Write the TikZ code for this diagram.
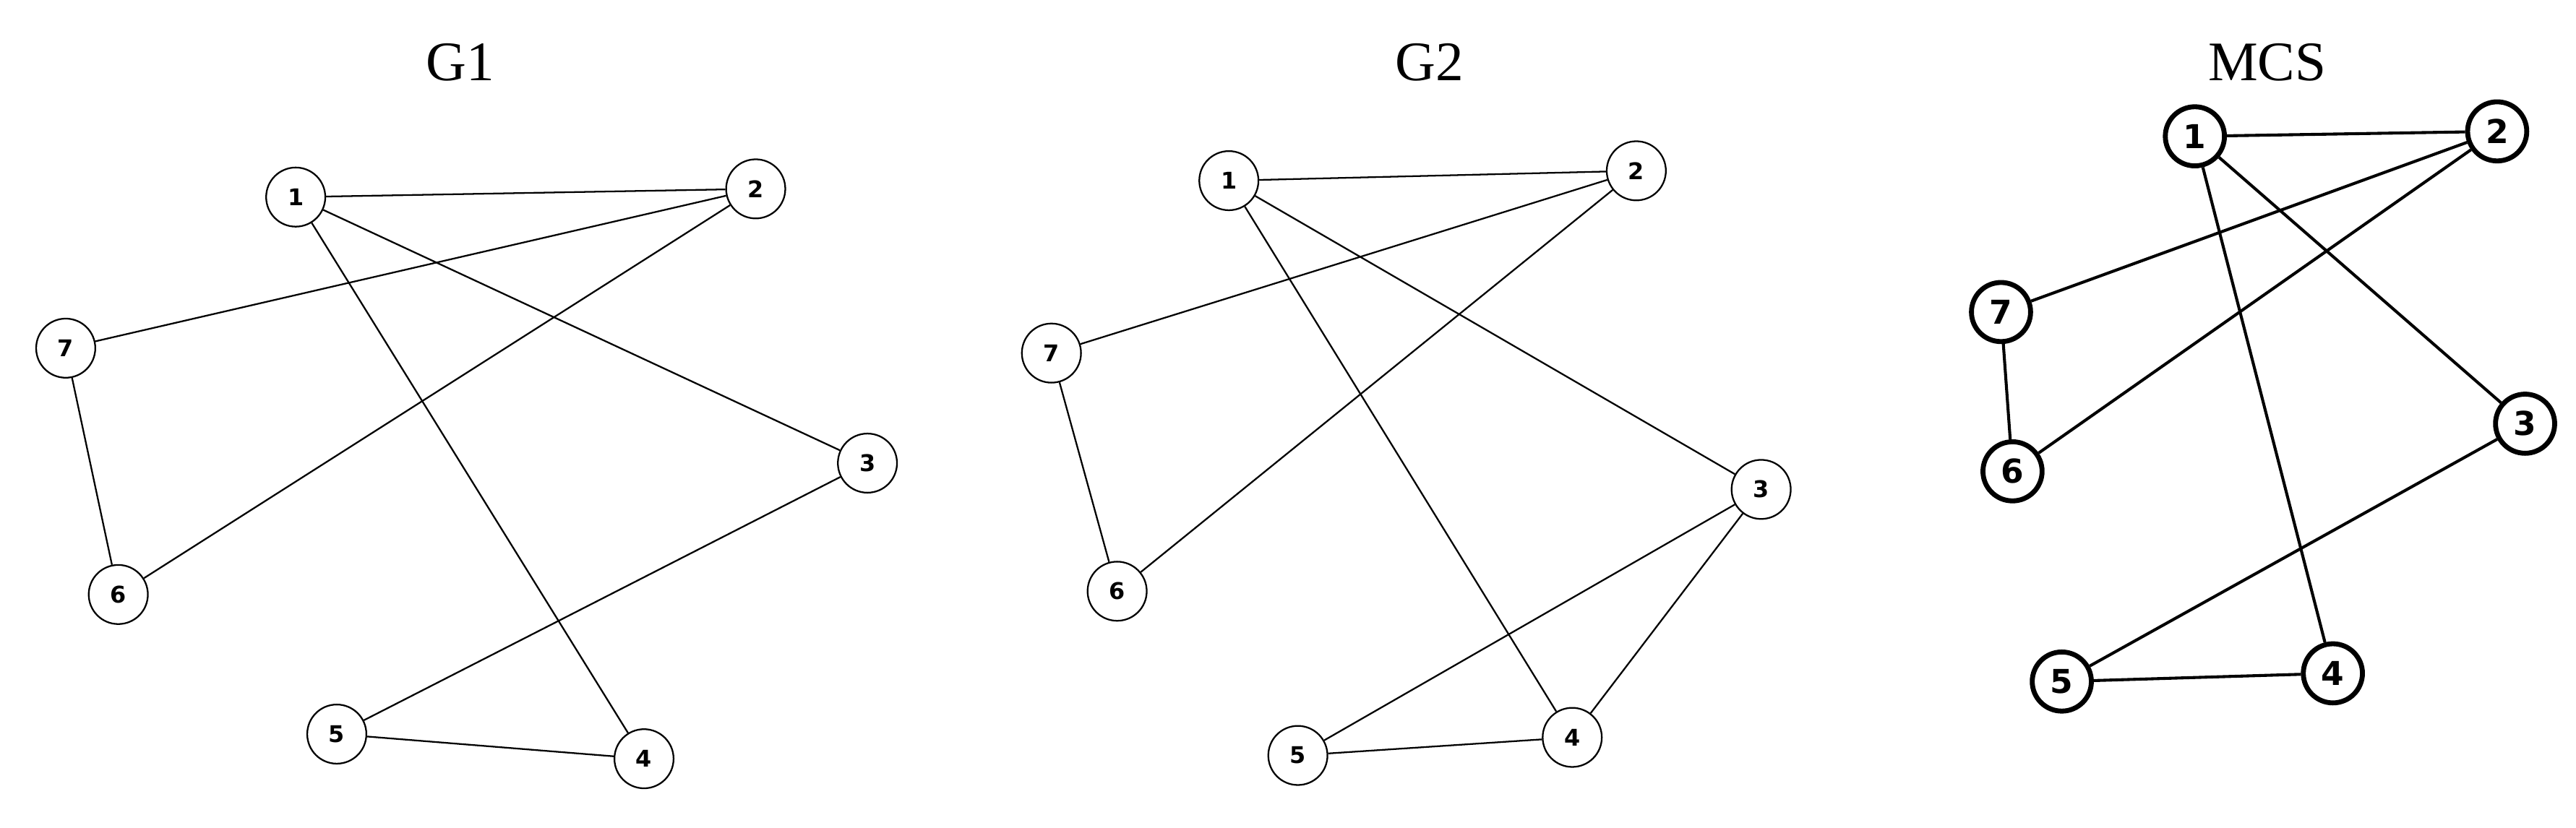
\documentclass[tikz,border=0pt]{standalone}
\usepackage{fontspec}
\setmainfont{Liberation Serif}
\newfontfamily\lblfont{DejaVu Sans}
\begin{document}
\begin{tikzpicture}[x=1pt,y=-1pt,
  vtx/.style={circle,draw,line width=1pt,minimum size=36pt,inner sep=0pt,font=\lblfont\bfseries\fontsize{14}{14}\selectfont},
  mvtx/.style={circle,draw,line width=3pt,minimum size=36pt,inner sep=0pt,font=\lblfont\bfseries\fontsize{20}{20}\selectfont},
  ed/.style={line width=1pt},
  med/.style={line width=1.8pt},
  ttl/.style={font=\fontsize{34}{34}\selectfont}]
\useasboundingbox (0,0) rectangle (1568,504);
\node[ttl] (t1) at (280,38) {G1};
\node[ttl] (t2) at (870,38) {G2};
\node[ttl] (t3) at (1380,38) {MCS};
% G1
\node[vtx] (a1) at (180,120) {1};
\node[vtx] (a2) at (460,115) {2};
\node[vtx] (a7) at (40,212) {7};
\node[vtx] (a3) at (528,282) {3};
\node[vtx] (a6) at (72,362) {6};
\node[vtx] (a5) at (205,447) {5};
\node[vtx] (a4) at (392,462) {4};
\foreach \u/\v in {a1/a2,a1/a3,a1/a4,a2/a7,a2/a6,a7/a6,a3/a5,a5/a4}
  \draw[ed] (\u) -- (\v);
% G2
\node[vtx] (b1) at (748,110) {1};
\node[vtx] (b2) at (996,104) {2};
\node[vtx] (b7) at (640,215) {7};
\node[vtx] (b3) at (1072,298) {3};
\node[vtx] (b6) at (680,360) {6};
\node[vtx] (b5) at (790,460) {5};
\node[vtx] (b4) at (957,449) {4};
\foreach \u/\v in {b1/b2,b1/b3,b1/b4,b2/b7,b2/b6,b7/b6,b3/b5,b3/b4,b5/b4}
  \draw[ed] (\u) -- (\v);
% MCS
\node[mvtx] (c1) at (1336,83) {1};
\node[mvtx] (c2) at (1520,80) {2};
\node[mvtx] (c7) at (1218,190) {7};
\node[mvtx] (c3) at (1537,258) {3};
\node[mvtx] (c6) at (1225,287) {6};
\node[mvtx] (c5) at (1255,415) {5};
\node[mvtx] (c4) at (1420,410) {4};
\foreach \u/\v in {c1/c2,c1/c3,c1/c4,c2/c7,c2/c6,c7/c6,c3/c5,c5/c4}
  \draw[med] (\u) -- (\v);
\end{tikzpicture}
\end{document}
